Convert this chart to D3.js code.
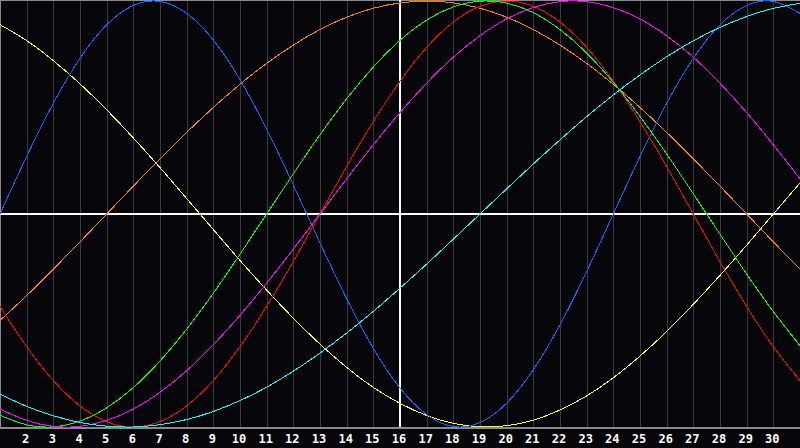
<!DOCTYPE html>
<html>
<head>
<meta charset="utf-8">
<script src="https://cdn.jsdelivr.net/npm/d3@7"></script>
<style>
  html, body { margin: 0; padding: 0; background: #060509; }
  svg { display: block; }
  .tick-label { font-family: "DejaVu Sans Mono", monospace; font-weight: bold; font-size: 12px; fill: #ffffff; }
</style>
</head>
<body>
<div id="chart"></div>
<script>
var svgWidth = 800;
var svgHeight = 448;

// days shown along the bottom
var days = d3.range(1, 32);
var tickDays = d3.range(2, 31);

// cycle values (percent), one per day
var physical     = [0, 27.0, 52.0, 73.1, 88.8, 97.9, 99.8, 94.2, 81.7, 63.1, 39.8, 13.6, -13.6, -39.8, -63.1, -81.7, -94.2, -99.8, -97.9, -88.8, -73.1, -52.0, -27.0, 0, 27.0, 52.0, 73.1, 88.8, 97.9, 99.8, 94.2];
var emotional    = [-43.4, -62.3, -78.2, -90.1, -97.5, -100, -97.5, -90.1, -78.2, -62.3, -43.4, -22.3, 0, 22.3, 43.4, 62.3, 78.2, 90.1, 97.5, 100, 97.5, 90.1, 78.2, 62.3, 43.4, 22.3, 0, -22.3, -43.4, -62.3, -78.2];
var intellectual = [-94.5, -99.0, -99.9, -97.2, -91.0, -81.5, -69.0, -54.1, -37.2, -18.9, 0, 18.9, 37.2, 54.1, 69.0, 81.5, 91.0, 97.2, 99.9, 99.0, 94.5, 86.6, 75.6, 61.8, 45.8, 28.2, 9.5, -9.5, -28.2, -45.8, -61.8];
var intuitive    = [-91.6, -96.9, -99.7, -99.7, -96.9, -91.6, -83.7, -73.6, -61.4, -47.6, -32.5, -16.5, 0, 16.5, 32.5, 47.6, 61.4, 73.6, 83.7, 91.6, 96.9, 99.7, 99.7, 96.9, 91.6, 83.7, 73.6, 61.4, 47.6, 32.5, 16.5];
var aesthetic    = [88.9, 81.4, 72.0, 61.1, 48.9, 35.7, 21.8, 7.3, -7.3, -21.8, -35.7, -48.9, -61.1, -72.0, -81.4, -88.9, -94.6, -98.3, -99.9, -99.4, -96.8, -92.0, -85.4, -76.9, -66.7, -55.2, -42.4, -28.8, -14.6, 0, 14.6];
var awareness    = [-50.0, -38.3, -25.9, -13.1, 0, 13.1, 25.9, 38.3, 50.0, 60.9, 70.7, 79.3, 86.6, 92.4, 96.6, 99.1, 100, 99.1, 96.6, 92.4, 86.6, 79.3, 70.7, 60.9, 50.0, 38.3, 25.9, 13.1, 0, -13.1, -25.9];
var spiritual    = [-84.6, -90.3, -94.7, -97.9, -99.6, -100.0, -98.9, -96.5, -92.7, -87.6, -81.3, -73.8, -65.3, -55.9, -45.7, -34.8, -23.5, -11.8, 0, 11.8, 23.5, 34.8, 45.7, 55.9, 65.3, 73.8, 81.3, 87.6, 92.7, 96.5, 98.9];

var seriesNames = ["aesthetic", "awareness", "physical", "emotional", "intellectual", "intuitive", "spiritual"];
var seriesValues = [aesthetic, awareness, physical, emotional, intellectual, intuitive, spiritual];
var seriesColors = ["#ffff00", "#ff8000", "#0a64ff", "#ff0000", "#00ff00", "#ff00ff", "#00ffff"];

var plot = { top: 1, bottom: 427, left: 0, right: 800 };

var svg = d3.select("#chart")
  .append("svg")
  .attr("width", svgWidth)
  .attr("height", svgHeight);

svg.append("rect")
  .attr("width", svgWidth)
  .attr("height", svgHeight)
  .attr("fill", "#060509");

var xScale = d3.scaleLinear()
  .domain([1, 31])
  .range([plot.left, plot.right]);

var yScale = d3.scaleLinear()
  .domain([-100, 100])
  .range([plot.bottom, plot.top]);

// vertical day grid
svg.append("g")
  .selectAll("line")
  .data(days)
  .enter()
  .append("line")
  .attr("x1", d => Math.round(xScale(d)) + 0.5)
  .attr("x2", d => Math.round(xScale(d)) + 0.5)
  .attr("y1", 0)
  .attr("y2", plot.bottom)
  .attr("stroke", "#3a3a3c")
  .attr("stroke-width", 1)
  .attr("shape-rendering", "crispEdges");

// frame
svg.append("line")
  .attr("x1", 0).attr("x2", svgWidth)
  .attr("y1", 0.5).attr("y2", 0.5)
  .attr("stroke", "#8a8a8a")
  .attr("shape-rendering", "crispEdges");
svg.append("line")
  .attr("x1", 0.5).attr("x2", 0.5)
  .attr("y1", 0).attr("y2", plot.bottom)
  .attr("stroke", "#8a8a8a")
  .attr("shape-rendering", "crispEdges");
svg.append("line")
  .attr("x1", 0).attr("x2", svgWidth)
  .attr("y1", plot.bottom + 0.5).attr("y2", plot.bottom + 0.5)
  .attr("stroke", "#8a8a8a")
  .attr("stroke-width", 2)
  .attr("shape-rendering", "crispEdges");

// zero line and today marker
svg.append("line")
  .attr("x1", 0).attr("x2", svgWidth)
  .attr("y1", yScale(0)).attr("y2", yScale(0))
  .attr("stroke", "#ffffff")
  .attr("stroke-width", 2)
  .attr("shape-rendering", "crispEdges");
svg.append("line")
  .attr("x1", xScale(16)).attr("x2", xScale(16))
  .attr("y1", 0).attr("y2", plot.bottom)
  .attr("stroke", "#ffffff")
  .attr("stroke-width", 2)
  .attr("shape-rendering", "crispEdges");

// cycle curves
var line = d3.line()
  .x((v, i) => xScale(days[i]))
  .y(v => yScale(v))
  .curve(d3.curveNatural);

svg.append("g")
  .selectAll("path")
  .data(seriesValues)
  .enter()
  .append("path")
  .attr("class", (d, i) => "cycle " + seriesNames[i])
  .attr("d", line)
  .attr("fill", "none")
  .attr("stroke", (d, i) => seriesColors[i])
  .attr("stroke-width", 1)
  .attr("shape-rendering", "crispEdges");

// day labels
svg.append("g")
  .selectAll("text")
  .data(tickDays)
  .enter()
  .append("text")
  .attr("class", "tick-label")
  .attr("x", d => xScale(d) - 1)
  .attr("y", 443)
  .attr("text-anchor", "middle")
  .text(d => d);
</script>
</body>
</html>
